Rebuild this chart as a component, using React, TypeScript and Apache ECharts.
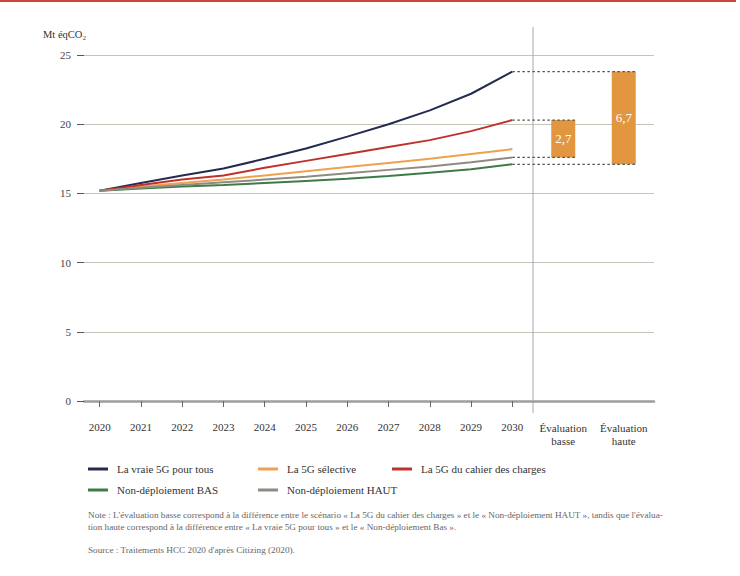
import React, { useEffect, useRef } from "react";
import * as echarts from "echarts";

const years = ["2020", "2021", "2022", "2023", "2024", "2025", "2026", "2027", "2028", "2029", "2030"];
const vraie5G = [15.2, 15.75, 16.3, 16.8, 17.5, 18.25, 19.1, 20.0, 21.0, 22.2, 23.8];
const selective5G = [15.2, 15.5, 15.75, 16.0, 16.3, 16.6, 16.9, 17.2, 17.5, 17.85, 18.2];
const cahier5G = [15.2, 15.6, 16.0, 16.3, 16.85, 17.35, 17.85, 18.35, 18.85, 19.5, 20.3];
const nonDeplBas = [15.2, 15.35, 15.5, 15.6, 15.75, 15.9, 16.05, 16.25, 16.5, 16.75, 17.1];
const nonDeplHaut = [15.2, 15.4, 15.6, 15.8, 16.0, 16.2, 16.45, 16.7, 16.95, 17.25, 17.6];
const evalCategories = ["Évaluation\nbasse", "Évaluation\nhaute"];
const yTicks = [0, 5, 10, 15, 20, 25];

const last = years.length - 1;
const evalBase = [nonDeplHaut[last], nonDeplBas[last]];
const evalTop = [cahier5G[last], vraie5G[last]];
const evalValues = [
  Math.round((evalTop[0] - evalBase[0]) * 10) / 10,
  Math.round((evalTop[1] - evalBase[1]) * 10) / 10,
];

const FONT = "'Liberation Serif', 'DejaVu Serif', serif";
const NOTE =
  "Note : L'évaluation basse correspond à la différence entre le scénario « La 5G du cahier des charges » et le « Non-déploiement HAUT », tandis que l'évalua-\ntion haute correspond à la différence entre « La vraie 5G pour tous » et le « Non-déploiement Bas ».";
const SOURCE = "Source : Traitements HCC 2020 d'après Citizing (2020).";

const COLORS = {
  vraie: "#232b4f",
  selective: "#eda24e",
  cahier: "#c0312c",
  bas: "#3f7a49",
  haut: "#8e8b80",
  bar: "#e2963f",
};

const BAR_W = 24;

export default function App() {
  const ref = useRef<HTMLDivElement>(null);
  useEffect(() => {
    if (!ref.current) return;
    const chart = echarts.init(ref.current, null, { renderer: "svg" });
    const lineSeries = (name: string, data: number[], color: string) => ({
      name,
      type: "line",
      xAxisIndex: 0,
      yAxisIndex: 0,
      data,
      symbol: "none",
      lineStyle: { color, width: 2 },
      itemStyle: { color },
      z: 3,
    });
    const legendBase = {
      orient: "vertical",
      top: 462,
      padding: 0,
      itemGap: 7,
      itemWidth: 20,
      itemHeight: 3,
      icon: "rect",
      textStyle: { fontFamily: FONT, fontSize: 11, color: "#333", lineHeight: 14, padding: [0, 0, 0, 4] },
    };
    chart.setOption({
      animation: false,
      backgroundColor: "#ffffff",
      title: [
        {
          text: "Mt éqCO₂",
          left: 43,
          top: 29,
          padding: 0,
          textStyle: { fontFamily: FONT, fontSize: 10.5, fontWeight: "normal", color: "#333" },
        },
        {
          text: NOTE,
          left: 88,
          top: 509,
          padding: 0,
          textStyle: { fontFamily: FONT, fontSize: 9.2, lineHeight: 12, fontWeight: "normal", color: "#666" },
        },
        {
          text: SOURCE,
          left: 88,
          top: 545,
          padding: 0,
          textStyle: { fontFamily: FONT, fontSize: 9.2, fontWeight: "normal", color: "#666" },
        },
      ],
      legend: [
        { ...legendBase, left: 88, data: ["La vraie 5G pour tous", "Non-déploiement BAS"] },
        { ...legendBase, left: 258, data: ["La 5G sélective", "Non-déploiement HAUT"] },
        { ...legendBase, left: 392, data: ["La 5G du cahier des charges"] },
      ],
      grid: [
        { left: 79, top: 55, width: 454, height: 346 },
        { left: 533, top: 55, width: 121, height: 346 },
        { left: 84, top: 55, width: 570, height: 346 },
      ],
      xAxis: [
        {
          gridIndex: 0,
          type: "category",
          data: years,
          boundaryGap: true,
          offset: 4,
          axisLine: { show: false },
          axisTick: { show: true, alignWithLabel: true, length: 6, lineStyle: { color: "#666" } },
          axisLabel: { margin: 16, interval: 0, fontFamily: FONT, fontSize: 11, color: "#333" },
          splitLine: { show: false },
        },
        {
          gridIndex: 1,
          type: "category",
          data: evalCategories,
          boundaryGap: true,
          axisLine: { show: false },
          axisTick: { show: false },
          axisLabel: { margin: 20, interval: 0, fontFamily: FONT, fontSize: 11, lineHeight: 13, color: "#333" },
          splitLine: { show: false },
        },
        {
          gridIndex: 2,
          type: "value",
          min: 0,
          max: 1,
          axisLine: { show: true, lineStyle: { color: "#9d9d9d", width: 2.5 } },
          axisTick: { show: false },
          axisLabel: { show: false },
          splitLine: { show: false },
        },
      ],
      yAxis: [
        { gridIndex: 0, type: "value", min: 0, max: 25, show: false, splitLine: { show: false } },
        { gridIndex: 1, type: "value", min: 0, max: 25, show: false, splitLine: { show: false } },
        {
          gridIndex: 2,
          type: "value",
          min: yTicks[0],
          max: yTicks[yTicks.length - 1],
          interval: 5,
          offset: 8,
          axisLine: { show: false },
          axisTick: { show: true, length: 7, lineStyle: { color: "#555" } },
          axisLabel: { margin: 5, fontFamily: FONT, fontSize: 11, color: "#444" },
          splitLine: { show: true, lineStyle: { color: "#c5c5bb", width: 1.2 } },
        },
      ],
      series: [
        lineSeries("La vraie 5G pour tous", vraie5G, COLORS.vraie),
        lineSeries("La 5G sélective", selective5G, COLORS.selective),
        lineSeries("La 5G du cahier des charges", cahier5G, COLORS.cahier),
        lineSeries("Non-déploiement BAS", nonDeplBas, COLORS.bas),
        lineSeries("Non-déploiement HAUT", nonDeplHaut, COLORS.haut),
        {
          name: "base",
          type: "bar",
          xAxisIndex: 1,
          yAxisIndex: 1,
          stack: "eval",
          data: evalBase,
          barWidth: BAR_W,
          itemStyle: { color: "rgba(0,0,0,0)" },
          silent: true,
        },
        {
          name: "écart",
          type: "bar",
          xAxisIndex: 1,
          yAxisIndex: 1,
          stack: "eval",
          data: evalValues,
          barWidth: BAR_W,
          itemStyle: { color: COLORS.bar },
          label: {
            show: true,
            position: "inside",
            formatter: (p: any) => String(p.value.toFixed(1)).replace(".", ","),
            color: "#ffffff",
            fontFamily: FONT,
            fontSize: 13,
          },
        },
      ],
    });

    // dotted connectors computed through the axes
    const x2030 = chart.convertToPixel({ xAxisIndex: 0, yAxisIndex: 0 }, [last, 0])[0];
    const barRight = (i: number) =>
      chart.convertToPixel({ xAxisIndex: 1, yAxisIndex: 1 }, [i, 0])[0] + BAR_W / 2;
    const yPix = (v: number) => chart.convertToPixel({ xAxisIndex: 0, yAxisIndex: 0 }, [0, v])[1];
    const connectors = [
      { v: evalTop[0], i: 0 },
      { v: evalBase[0], i: 0 },
      { v: evalTop[1], i: 1 },
      { v: evalBase[1], i: 1 },
    ].map((c) => ({
      type: "line",
      z: 10,
      shape: { x1: x2030, y1: yPix(c.v), x2: barRight(c.i), y2: yPix(c.v) },
      style: { stroke: "#555", lineWidth: 1.3, lineDash: [2.5, 2.5] },
    }));
    const sepX = chart.convertToPixel({ xAxisIndex: 1, yAxisIndex: 1 }, [0, 0])[0] - 121 / 4;

    chart.setOption({
      graphic: [
        { type: "rect", shape: { x: 0, y: 0, width: 736, height: 2 }, style: { fill: "#c8473f" } },
        {
          type: "line",
          shape: { x1: sepX, y1: 27, x2: sepX, y2: 413 },
          style: { stroke: "#a8a8a8", lineWidth: 1 },
        },
        ...connectors,
      ],
    });

    return () => chart.dispose();
  }, []);
  return (
    <div
      ref={ref}
      style={{ position: "absolute", left: 0, top: 0, width: 740, height: 576, background: "#fff" }}
    />
  );
}
